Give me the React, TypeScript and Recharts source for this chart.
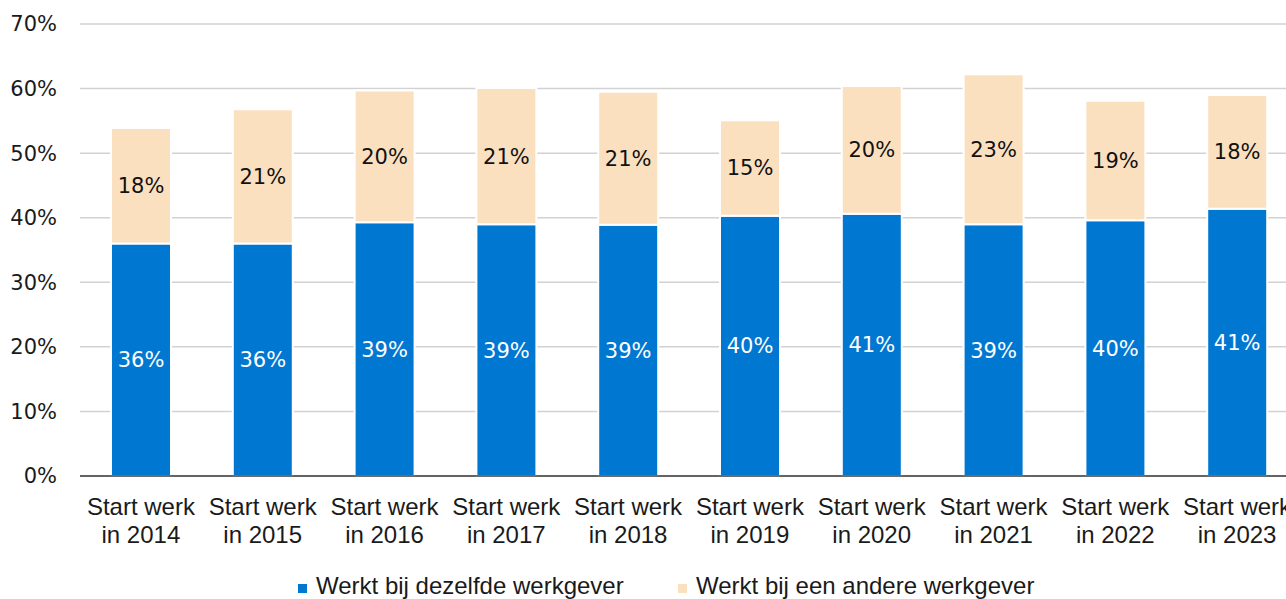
import React from 'react';
import { BarChart, Bar, XAxis, YAxis, CartesianGrid, LabelList, Legend } from 'recharts';

const years = ['2014', '2015', '2016', '2017', '2018', '2019', '2020', '2021', '2022', '2023'];
const sameEmployer = [36.0, 36.0, 39.3, 39.0, 38.9, 40.3, 40.6, 39.0, 39.6, 41.4];
const otherEmployer = [17.9, 20.8, 20.4, 21.1, 20.6, 14.8, 19.8, 23.2, 18.5, 17.6];
const yTicks = [0, 10, 20, 30, 40, 50, 60, 70];
const seriesNames = ['Werkt bij dezelfde werkgever', 'Werkt bij een andere werkgever'];
const colors = ['#0078d2', '#fbe0c0'];

const data = years.map((y, i) => ({ year: y, same: sameEmployer[i], other: otherEmployer[i] }));

const LABEL_FONT = "'DejaVu Sans', sans-serif";
const TEXT_FONT = "'Liberation Sans', Arial, sans-serif";

const XTick = (props: any) => {
  const { x, y, payload } = props;
  return (
    <text x={x} y={y} textAnchor="middle" fill="#1a1a1a" fontSize={24} fontFamily={TEXT_FONT}>
      <tspan x={x} dy={31}>Start werk</tspan>
      <tspan x={x} dy={28}>{`in ${payload.value}`}</tspan>
    </text>
  );
};

const LegendContent = () => {
  const lefts = [298, 678];
  return (
    <div style={{ position: 'relative', height: 26, width: 1298 }}>
      {seriesNames.map((n, i) => (
        <div
          key={n}
          style={{
            position: 'absolute',
            left: lefts[i],
            top: 0,
            height: 26,
            display: 'flex',
            alignItems: 'center',
            whiteSpace: 'nowrap',
            fontFamily: TEXT_FONT,
            fontSize: 24,
            lineHeight: '26px',
            color: '#1a1a1a',
          }}
        >
          <span style={{ display: 'inline-block', width: 9, height: 9, background: colors[i], marginRight: 9, marginTop: 4 }} />
          <span>{n}</span>
        </div>
      ))}
    </div>
  );
};

export default function App() {
  return (
    <div style={{ position: 'absolute', left: 0, top: 0, width: 1286, height: 599, overflow: 'hidden', background: '#fff' }}>
      <BarChart
        width={1298}
        height={599}
        data={data}
        margin={{ top: 24, right: 0, bottom: 0, left: 0 }}
        barSize={60}
      >
        <CartesianGrid vertical={false} stroke="#d2d2d2" strokeWidth={1.5} />
        <XAxis
          dataKey="year"
          height={97}
          tick={<XTick />}
          tickLine={false}
          axisLine={{ stroke: '#3a3a3a', strokeWidth: 1.5 }}
          interval={0}
        />
        <YAxis
          width={80}
          domain={[0, 70]}
          ticks={yTicks}
          tickFormatter={(v: number) => `${v}%`}
          axisLine={false}
          tickLine={false}
          tickMargin={17}
          tick={{ fontSize: 21, fontFamily: LABEL_FONT, fill: '#1a1a1a' }}
        />
        <Legend verticalAlign="bottom" align="left" wrapperStyle={{ left: 0 }} content={<LegendContent />} />
        <Bar dataKey="same" name={seriesNames[0]} stackId="a" fill={colors[0]} stroke="#ffffff" strokeWidth={2} isAnimationActive={false}>
          <LabelList
            dataKey="same"
            position="center"
            fill="#ffffff"
            stroke="none"
            fontSize={21}
            fontFamily={LABEL_FONT}
            formatter={(v: any) => `${Math.round(Number(v))}%`}
          />
        </Bar>
        <Bar dataKey="other" name={seriesNames[1]} stackId="a" fill={colors[1]} stroke="#ffffff" strokeWidth={2} isAnimationActive={false}>
          <LabelList
            dataKey="other"
            position="center"
            fill="#111111"
            stroke="none"
            fontSize={21}
            fontFamily={LABEL_FONT}
            formatter={(v: any) => `${Math.round(Number(v))}%`}
          />
        </Bar>
      </BarChart>
    </div>
  );
}
